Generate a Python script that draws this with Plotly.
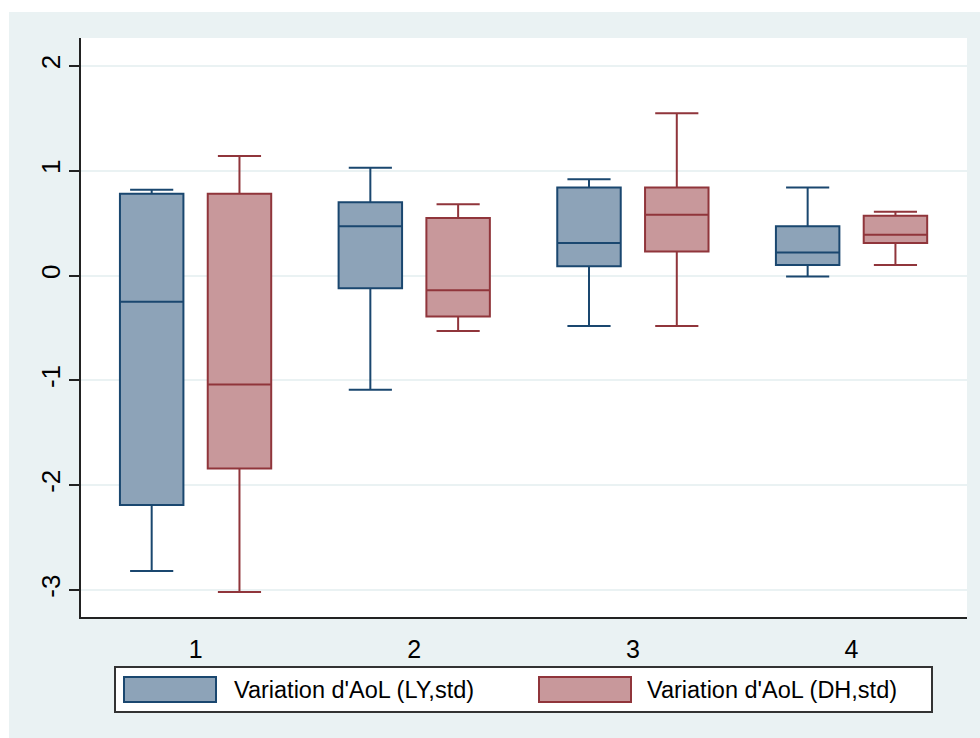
import plotly.graph_objects as go

# Box-plot summaries per group (standardised AoL variation)
groups = ["1", "2", "3", "4"]
series_names = ["Variation d'AoL (LY,std)", "Variation d'AoL (DH,std)"]

ly_lower = [-2.82, -1.09, -0.48, -0.01]
ly_q1 = [-2.19, -0.12, 0.09, 0.10]
ly_median = [-0.25, 0.47, 0.31, 0.22]
ly_q3 = [0.78, 0.70, 0.84, 0.47]
ly_upper = [0.82, 1.03, 0.92, 0.84]

dh_lower = [-3.02, -0.53, -0.48, 0.10]
dh_q1 = [-1.84, -0.39, 0.23, 0.31]
dh_median = [-1.04, -0.14, 0.58, 0.39]
dh_q3 = [0.78, 0.55, 0.84, 0.57]
dh_upper = [1.14, 0.68, 1.55, 0.61]

y_ticks = [-3, -2, -1, 0, 1, 2]
y_tick_text = ["-3", "-2", "-1", "0", "1", "2"]

FONT = "Liberation Sans, Arial, sans-serif"
BG = "#EAF2F3"
fills = ["rgb(141,163,184)", "rgb(200,152,155)"]
lines = ["#1A476F", "#90353B"]

W, H = 980, 738
L, R, T, B = 81, 13, 38, 121
PW, PH = W - L - R, H - T - B


def px_x(p):
    return (p - L) / PW


def px_y(p):
    return (H - B - p) / PH


fig = go.Figure()
stats = [
    (ly_lower, ly_q1, ly_median, ly_q3, ly_upper),
    (dh_lower, dh_q1, dh_median, dh_q3, dh_upper),
]
for i, (lo, q1, med, q3, hi) in enumerate(stats):
    fig.add_trace(go.Box(
        name=series_names[i],
        x=groups,
        lowerfence=lo, q1=q1, median=med, q3=q3, upperfence=hi,
        boxpoints=False,
        fillcolor=fills[i],
        line=dict(color=lines[i], width=2),
        whiskerwidth=0.68,
        showlegend=False,
    ))

shapes = [
    # white page border at top and left
    dict(type="rect", xref="paper", yref="paper", x0=px_x(0), x1=px_x(W),
         y0=px_y(12), y1=px_y(0), fillcolor="white", line_width=0, layer="above"),
    dict(type="rect", xref="paper", yref="paper", x0=px_x(0), x1=px_x(9),
         y0=px_y(H), y1=px_y(0), fillcolor="white", line_width=0, layer="above"),
    # legend frame
    dict(type="rect", xref="paper", yref="paper", x0=px_x(115), x1=px_x(932),
         y0=px_y(712), y1=px_y(667), fillcolor="white",
         line=dict(color="#333333", width=2), layer="above"),
]
annotations = []
swatch_x = [(124, 216), (539, 631)]
text_x = [232, 645]
for i in range(2):
    shapes.append(dict(type="rect", xref="paper", yref="paper",
                       x0=px_x(swatch_x[i][0]), x1=px_x(swatch_x[i][1]),
                       y0=px_y(702), y1=px_y(677), fillcolor=fills[i],
                       line=dict(color=lines[i], width=2), layer="above"))
    annotations.append(dict(xref="paper", yref="paper", x=px_x(text_x[i]), y=px_y(690),
                            xanchor="left", yanchor="middle", showarrow=False,
                            text=series_names[i],
                            font=dict(family=FONT, size=23.5, color="black")))

fig.update_layout(
    width=W, height=H,
    margin=dict(l=L, r=R, t=T, b=B),
    paper_bgcolor=BG, plot_bgcolor="white",
    boxmode="group", boxgap=0.197, boxgroupgap=0.277,
    font=dict(family=FONT, size=25, color="black"),
    shapes=shapes, annotations=annotations,
    xaxis=dict(type="category", range=[-0.524, 3.528], showgrid=False,
               showline=True, linecolor="#222222", linewidth=2, ticks="",
               ticklabelstandoff=9, tickfont=dict(size=25)),
    yaxis=dict(range=[-3.258, 2.267], tickvals=y_ticks, ticktext=y_tick_text,
               tickangle=-90, ticklabelstandoff=-1,
               showgrid=True, gridcolor=BG, gridwidth=1.5, zeroline=False,
               showline=True, linecolor="#222222", linewidth=2,
               ticks="outside", ticklen=10, tickwidth=2, tickcolor="#222222",
               tickfont=dict(size=26)),
)

fig.write_html("out.html")
